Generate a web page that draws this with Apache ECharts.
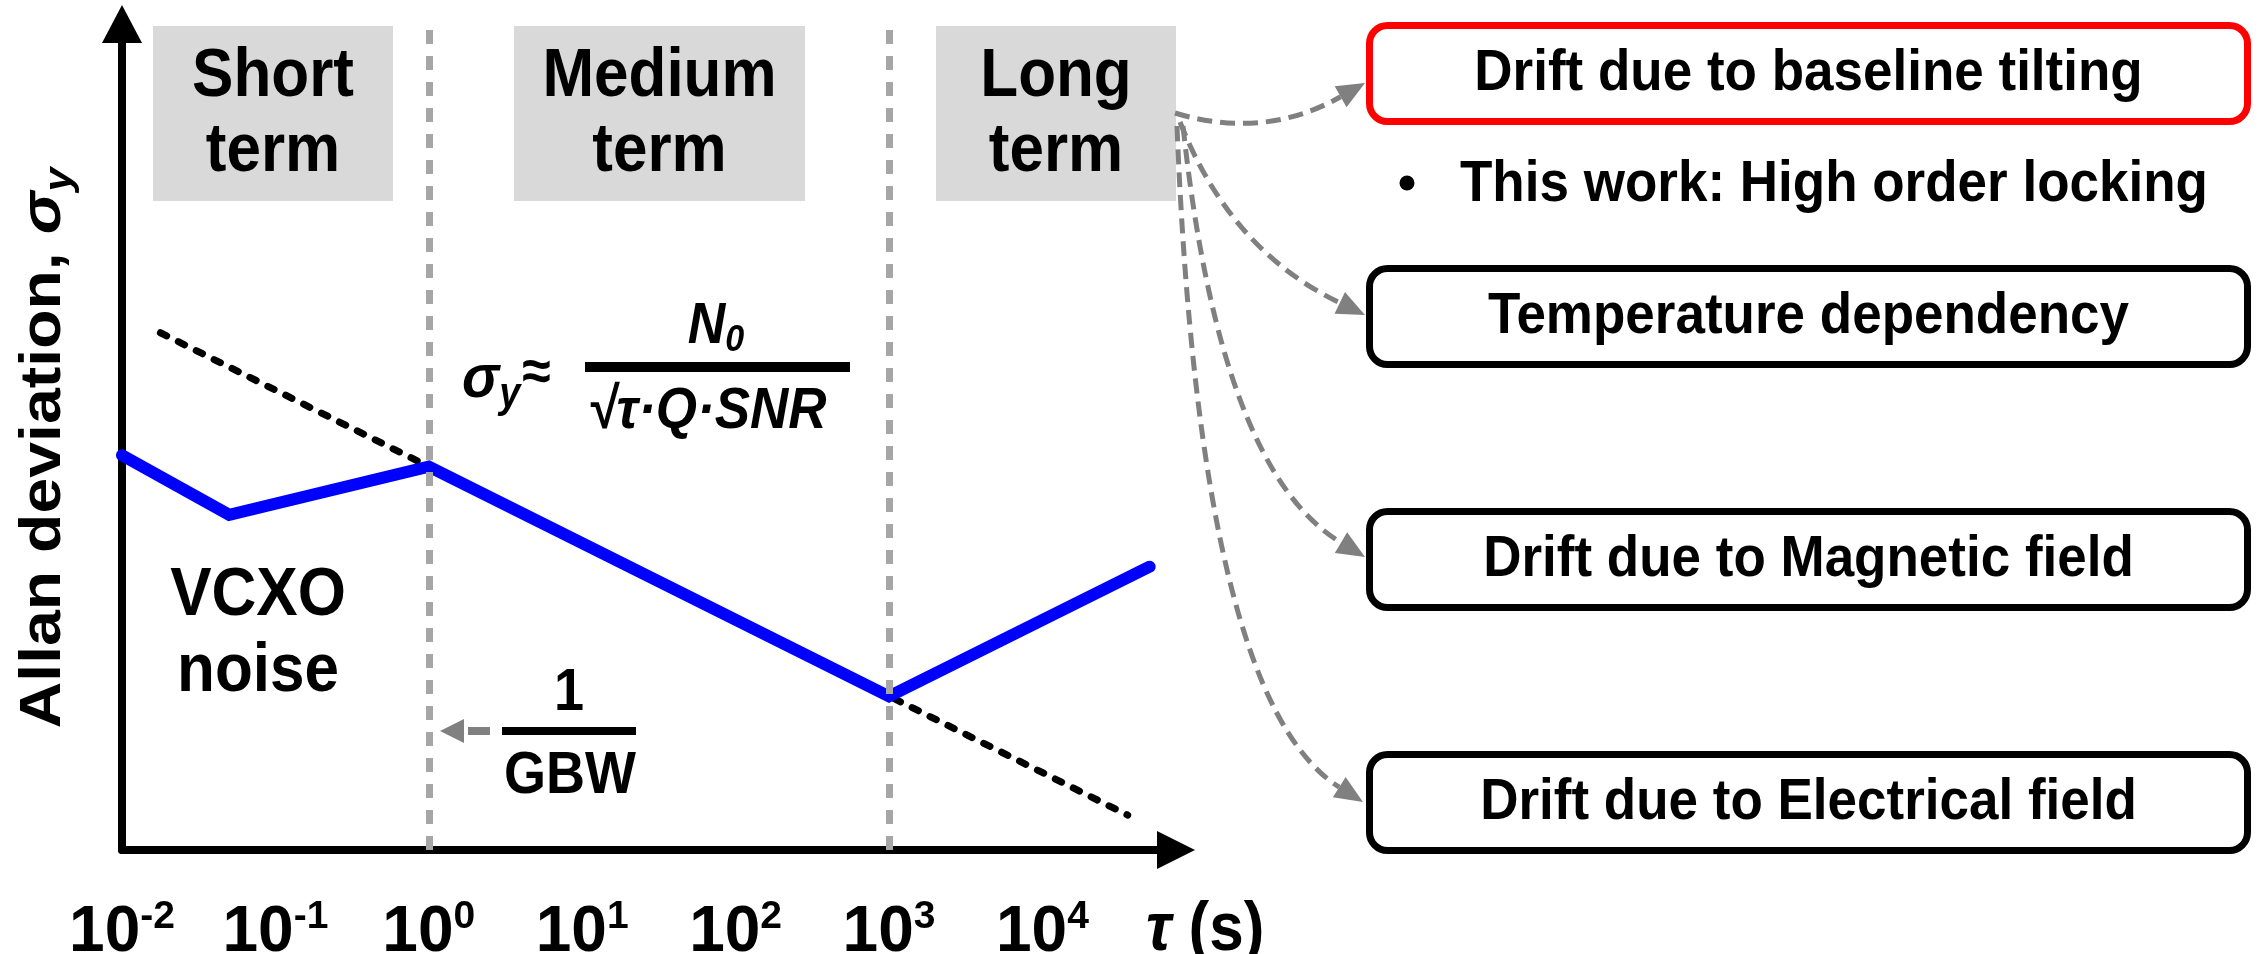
<!DOCTYPE html>
<html>
<head>
<meta charset="utf-8">
<title>Allan deviation vs averaging time</title>
<script src="https://cdn.jsdelivr.net/npm/echarts@6/dist/echarts.min.js"></script>
<style>
  html, body { margin: 0; padding: 0; background: #ffffff; }
  #chart { width: 2262px; height: 954px; }
</style>
</head>
<body>
<div id="chart"></div>
<script>
// Measured Allan deviation curve (tau in seconds, sigma in arbitrary units)
const tauCurve = [0.01, 0.05, 1, 1000, 50000];
const sigmaCurve = [380, 155, 320, 10.1, 71];

// White-noise tau^-1/2 asymptote (dotted)
const tauSlope = [0.0178, 36000];
const sigmaSlope = [2400, 1.69];

// Boundaries between short / medium / long term regions
const regionBounds = [1, 1000];

// Decade exponents labelled on the tau axis
const tickExponents = [-2, -1, 0, 1, 2, 3, 4];

// Region titles and drift mechanisms
const regionNames = ['Short\nterm', 'Medium\nterm', 'Long\nterm'];
const driftItems = [
  'Drift due to baseline tilting',
  'Temperature dependency',
  'Drift due to Magnetic field',
  'Drift due to Electrical field'
];
const noteText = 'This work: High order locking';

const FONT = "'Liberation Sans', Arial, Helvetica, sans-serif";
const GRAY = '#808080';
const TALL = 1.1; // vertical stretch applied to annotation text

const toPairs = (xs, ys) => xs.map((x, i) => [x, ys[i]]);

// Dashed quadratic arrow with a filled triangular head
function curvedArrow(p0, c, tip) {
  const dx = tip[0] - c[0], dy = tip[1] - c[1];
  const len = Math.hypot(dx, dy);
  const ux = dx / len, uy = dy / len;
  const headLen = 28, headHalf = 12;
  const base = [tip[0] - ux * headLen, tip[1] - uy * headLen];
  return [
    {
      type: 'bezierCurve',
      shape: { x1: p0[0], y1: p0[1], x2: base[0], y2: base[1], cpx1: c[0], cpy1: c[1] },
      style: { stroke: GRAY, lineWidth: 5, lineDash: [15, 8], fill: null }
    },
    {
      type: 'polygon',
      shape: { points: [tip, [base[0] - uy * headHalf, base[1] + ux * headHalf], [base[0] + uy * headHalf, base[1] - ux * headHalf]] },
      style: { fill: GRAY }
    }
  ];
}

// Bold annotation text, centred on (x, y) and stretched vertically
function label(x, y, style, extra) {
  return Object.assign({ type: 'text', x: x, y: y, scaleY: TALL, z: 5, style: Object.assign({ fill: '#000', align: 'center', verticalAlign: 'middle' }, style) }, extra || {});
}

const graphics = [];

// Region title panels
const regionRects = [[153, 240], [514, 291], [936, 240]];
regionRects.forEach((r, i) => {
  graphics.push({ type: 'rect', shape: { x: r[0], y: 26, width: r[1], height: 175 }, style: { fill: '#d9d9d9' }, z: 1 });
  graphics.push(label(r[0] + r[1] / 2, 115, { text: regionNames[i], font: 'bold 62px ' + FONT, lineHeight: 68 }, { z: 2 }));
});

// VCXO noise label
graphics.push(label(258, 634, { text: 'VCXO\nnoise', font: 'bold 62px ' + FONT, lineHeight: 69 }));

// sigma_y ≈ N0 / (sqrt(tau) Q SNR)
graphics.push(label(462, 380, {
  text: '{g|σ}{s|y}{a|≈}', align: 'left',
  rich: {
    g: { font: 'italic bold 56px ' + FONT, fill: '#000', lineHeight: 66 },
    s: { font: 'italic bold 38px ' + FONT, fill: '#000', lineHeight: 40, verticalAlign: 'bottom' },
    a: { font: 'bold 52px ' + FONT, fill: '#000', lineHeight: 66, padding: [0, 0, 10, 2] }
  }
}));
graphics.push(label(716, 327, {
  text: '{n|N}{z|0}',
  rich: {
    n: { font: 'italic bold 52px ' + FONT, fill: '#000', lineHeight: 58 },
    z: { font: 'italic bold 34px ' + FONT, fill: '#000', lineHeight: 32, verticalAlign: 'bottom' }
  }
}));
graphics.push({ type: 'rect', shape: { x: 585, y: 362, width: 265, height: 10 }, style: { fill: '#000' }, z: 5 });
graphics.push(label(707, 412, { text: '√τ·Q·SNR', font: 'italic bold 53px ' + FONT }));

// 1 / GBW with pointer to the tau = 1 boundary
graphics.push(label(569, 694, { text: '1', font: 'bold 54px ' + FONT }));
graphics.push({ type: 'rect', shape: { x: 502, y: 727, width: 134, height: 8 }, style: { fill: '#000' }, z: 5 });
graphics.push(label(570, 777, { text: 'GBW', font: 'bold 54px ' + FONT }));
graphics.push({ type: 'polygon', shape: { points: [[440, 731], [464, 719], [464, 743]] }, style: { fill: GRAY }, z: 5 });
graphics.push({ type: 'rect', shape: { x: 468, y: 727, width: 22, height: 8 }, style: { fill: GRAY }, z: 5 });

// Axis titles
graphics.push({
  type: 'text', x: 44, y: 448, rotation: Math.PI / 2, scaleX: 1.13, z: 5,
  style: {
    text: '{t|Allan deviation, }{g|σ}{s|y}', align: 'center', verticalAlign: 'middle',
    rich: {
      t: { font: 'bold 57px ' + FONT, fill: '#000', lineHeight: 72 },
      g: { font: 'italic bold 57px ' + FONT, fill: '#000', lineHeight: 72 },
      s: { font: 'italic bold 38px ' + FONT, fill: '#000', lineHeight: 40, verticalAlign: 'bottom' }
    }
  }
});
graphics.push(label(1146, 931, {
  text: '{t|τ}{p| (s)}', align: 'left',
  rich: {
    t: { font: 'italic bold 62px ' + FONT, fill: '#000' },
    p: { font: 'bold 62px ' + FONT, fill: '#000' }
  }
}));

// Drift mechanism boxes
const boxTops = [25.5, 268.5, 511.5, 754.5];
driftItems.forEach((t, i) => {
  graphics.push({
    type: 'rect', z: 3,
    shape: { x: 1369.5, y: boxTops[i], width: 878, height: 96, r: 18 },
    style: { fill: '#ffffff', stroke: i === 0 ? '#ff0000' : '#000000', lineWidth: 7 }
  });
  graphics.push(label(1808.5, boxTops[i] + 48, { text: t, font: 'bold 53px ' + FONT }, { z: 4 }));
});
graphics.push({ type: 'circle', shape: { cx: 1407, cy: 183, r: 7.5 }, style: { fill: '#000' }, z: 4 });
graphics.push(label(1460, 185, { text: noteText, align: 'left', font: 'bold 53px ' + FONT }, { z: 4 }));

// Links from the long-term region to each drift mechanism
[
  [[1175, 113], [1264, 140], [1365, 83]],
  [[1180, 122], [1230, 250], [1365, 315]],
  [[1183, 126], [1220, 470], [1365, 557]],
  [[1177, 126], [1200, 700], [1363, 802]]
].forEach(a => curvedArrow(a[0], a[1], a[2]).forEach(g => { g.z = 2; graphics.push(g); }));

const chart = echarts.init(document.getElementById('chart'), null, { renderer: 'canvas' });

chart.setOption({
  animation: false,
  backgroundColor: '#ffffff',
  grid: { left: 122, right: 1086, top: 24, bottom: 104, containLabel: false, outerBoundsMode: 'none' },
  xAxis: {
    type: 'log',
    logBase: 10,
    min: 0.01,
    max: Math.pow(10, 4.871),
    axisLine: {
      show: true,
      symbol: ['none', 'triangle'],
      symbolSize: [38, 38],
      lineStyle: { color: '#000', width: 8, cap: 'round' }
    },
    axisTick: { show: false },
    splitLine: { show: false },
    axisLabel: {
      show: true,
      margin: 48,
      showMaxLabel: false,
      formatter: v => {
        const lg = Math.log10(v);
        const e = Math.round(lg);
        if (Math.abs(lg - e) > 1e-6 || tickExponents.indexOf(e) < 0) return '';
        return '{b|10}{s|' + e + '}';
      },
      rich: {
        b: { fontFamily: FONT, fontWeight: 'bold', fontSize: 64, lineHeight: 70, color: '#000' },
        s: { fontFamily: FONT, fontWeight: 'bold', fontSize: 39, lineHeight: 38, color: '#000', verticalAlign: 'top' }
      }
    }
  },
  yAxis: {
    type: 'log',
    logBase: 10,
    min: 1,
    max: 250000,
    axisLine: {
      show: true,
      symbol: ['none', 'triangle'],
      symbolSize: [40, 38],
      lineStyle: { color: '#000', width: 8, cap: 'round' }
    },
    axisTick: { show: false },
    axisLabel: { show: false },
    splitLine: { show: false }
  },
  series: [
    {
      name: 'tau^-1/2 asymptote',
      type: 'line',
      data: toPairs(tauSlope, sigmaSlope),
      showSymbol: false,
      silent: true,
      z: 2,
      lineStyle: { color: '#000', width: 7, type: [7, 13], cap: 'round' },
      markLine: {
        silent: true,
        symbol: 'none',
        label: { show: false },
        lineStyle: { color: '#a6a6a6', width: 7, type: [14, 12] },
        data: regionBounds.map(t => ({ xAxis: t }))
      }
    },
    {
      name: 'Allan deviation',
      type: 'line',
      data: toPairs(tauCurve, sigmaCurve),
      showSymbol: false,
      silent: true,
      z: 3,
      lineStyle: { color: '#0000ff', width: 12, cap: 'round', join: 'miter' }
    }
  ],
  graphic: { elements: graphics }
});
</script>
</body>
</html>
